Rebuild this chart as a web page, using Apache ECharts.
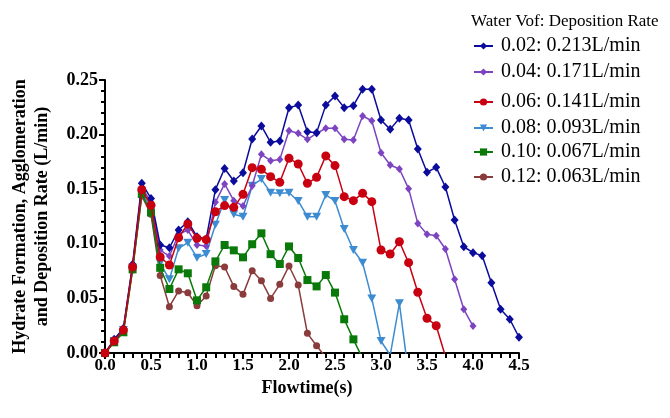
<!DOCTYPE html>
<html>
<head>
<meta charset="utf-8">
<script src="https://cdn.jsdelivr.net/npm/echarts@6/dist/echarts.min.js"></script>
<style>
  html, body { margin: 0; padding: 0; background: #fff; }
  #chart { width: 670px; height: 418px; }
</style>
</head>
<body>
<div id="chart"></div>
<script>
// Flowtime samples (s)
const flowtime = [
  0.0, 0.1, 0.2, 0.3, 0.4, 0.5, 0.6, 0.7, 0.8, 0.9,
  1.0, 1.1, 1.2, 1.3, 1.4, 1.5, 1.6, 1.7, 1.8, 1.9,
  2.0, 2.1, 2.2, 2.3, 2.4, 2.5, 2.6, 2.7, 2.8, 2.9,
  3.0, 3.1, 3.2, 3.3, 3.4, 3.5, 3.6, 3.7, 3.8, 3.9,
  4.0, 4.1, 4.2, 4.3, 4.4, 4.5
];

// Legend entries (water volume fraction : mean deposition rate)
const seriesNames = [
  '0.02: 0.213L/min',
  '0.04: 0.171L/min',
  '0.06: 0.141L/min',
  '0.08: 0.093L/min',
  '0.10: 0.067L/min',
  '0.12: 0.063L/min'
];

// Rate (L/min) per water Vof
const vof002 = [
  0, 0.0125, 0.0226, 0.0812, 0.1554, 0.1415, 0.0989, 0.0964, 0.1126, 0.1202,
  0.1065, 0.1044, 0.1496, 0.1690, 0.1575, 0.1651, 0.1960, 0.2079, 0.1929, 0.1941,
  0.2246, 0.2270, 0.2027, 0.2018, 0.2270, 0.2353, 0.2247, 0.2265, 0.2415, 0.2415,
  0.2134, 0.2048, 0.2149, 0.2134, 0.1868, 0.1655, 0.1700, 0.1520, 0.1218, 0.0973,
  0.0919, 0.0891, 0.0644, 0.0400, 0.0309, 0.0144
];
const vof004 = [
  0, 0.0120, 0.0220, 0.0800, 0.1520, 0.1380, 0.0943, 0.0888, 0.1087, 0.1126,
  0.0989, 0.0980, 0.1380, 0.1548, 0.1395, 0.1346, 0.1532, 0.1819, 0.1761, 0.1773,
  0.2036, 0.2012, 0.1957, 0.2012, 0.2058, 0.2058, 0.1957, 0.1951, 0.2170, 0.2127,
  0.1834, 0.1722, 0.1685, 0.1505, 0.1187, 0.1087, 0.1074, 0.0952, 0.0675, 0.0400,
  0.0247
];
const vof006 = [
  0, 0.0110, 0.0210, 0.0788, 0.1496, 0.1353, 0.0879, 0.0806, 0.1056, 0.1181,
  0.1050, 0.1038, 0.1294, 0.1350, 0.1334, 0.1453, 0.1697, 0.1682, 0.1615, 0.1563,
  0.1783, 0.1731, 0.1554, 0.1609, 0.1805, 0.1716, 0.1432, 0.1395, 0.1462, 0.1386,
  0.0943, 0.0907, 0.1019, 0.0827, 0.0556, 0.0318, 0.0250, -0.003
];
const vof008 = [
  0, 0.0110, 0.0210, 0.0780, 0.1480, 0.1320, 0.0821, 0.0675, 0.0959, 0.1010,
  0.0873, 0.0907, 0.1175, 0.1401, 0.1270, 0.1248, 0.1532, 0.1593, 0.1468, 0.1462,
  0.1468, 0.1392, 0.1248, 0.1248, 0.1447, 0.1392, 0.1136, 0.0943, 0.0827, 0.0500,
  0.0110, -0.002, 0.0455, -0.020
];
const vof010 = [
  0, 0.0098, 0.0190, 0.0766, 0.1456, 0.1287, 0.0780, 0.0586, 0.0766, 0.0730,
  0.0482, 0.0602, 0.0839, 0.0989, 0.0940, 0.0876, 0.0996, 0.1096, 0.0905, 0.0815,
  0.0976, 0.0870, 0.0668, 0.0610, 0.0714, 0.0553, 0.0309, 0.0125, -0.005
];
const vof012 = [
  0, 0.0100, 0.0190, 0.0760, 0.1438, 0.1270, 0.0710, 0.0424, 0.0568, 0.0552,
  0.0433, 0.0522, 0.0800, 0.0788, 0.0610, 0.0537, 0.0754, 0.0662, 0.0500, 0.0629,
  0.0797, 0.0623, 0.0180, 0.0067, -0.004
];

const xTicks = [0, 4.5, 0.5];      // min, max, step
const yTicks = [0, 0.25, 0.05];

const serif = 'Liberation Serif';

const styles = [
  { color: '#0b0b9c', symbol: 'diamond',  size: [8, 9],  rotate: 0,   z: 4 },
  { color: '#7c44c0', symbol: 'diamond',  size: [7, 8],  rotate: 0,   z: 3 },
  { color: '#c80010', symbol: 'circle',   size: 9,       rotate: 0,   z: 6 },
  { color: '#3d8bd0', symbol: 'triangle', size: [9, 8],  rotate: 180, z: 2 },
  { color: '#097a09', symbol: 'rect',     size: 8,       rotate: 0,   z: 5 },
  { color: '#8a3b3b', symbol: 'circle',   size: 7,       rotate: 0,   z: 1 }
];
const values = [vof002, vof004, vof006, vof008, vof010, vof012];
const legendY = [46, 72, 102, 128, 152, 177];

const series = values.map((vals, i) => ({
  name: seriesNames[i],
  type: 'line',
  data: vals.map((v, k) => [flowtime[k], v]),
  symbol: styles[i].symbol,
  symbolSize: styles[i].size,
  symbolRotate: styles[i].rotate,
  showAllSymbol: true,
  clip: true,
  z: styles[i].z,
  lineStyle: { color: styles[i].color, width: 1.5 },
  itemStyle: { color: styles[i].color },
  emphasis: { disabled: true }
}));

const legends = seriesNames.map((n, i) => ({
  data: [n],
  left: 473,
  top: legendY[i] - 10,
  padding: 0,
  orient: 'vertical',
  itemWidth: 19,
  itemHeight: 9,
  selectedMode: false,
  textStyle: { fontFamily: serif, fontSize: 20, color: '#000', padding: [0, 0, 0, 3] }
}));

const chart = echarts.init(document.getElementById('chart'), null, { renderer: 'canvas' });
chart.setOption({
  animation: false,
  backgroundColor: '#fff',
  title: {
    text: 'Water Vof: Deposition Rate',
    left: 466,
    top: 8,
    textStyle: { fontFamily: serif, fontSize: 17, fontWeight: 'normal', color: '#000' }
  },
  legend: legends,
  grid: { left: 105, right: 151, top: 80, bottom: 65, containLabel: false },
  xAxis: {
    type: 'value',
    min: xTicks[0], max: xTicks[1], interval: xTicks[2],
    name: 'Flowtime(s)',
    nameLocation: 'middle',
    nameGap: 16,
    nameTextStyle: { fontFamily: serif, fontSize: 18, fontWeight: 'bold', color: '#000', padding: [0, 10, 0, 0] },
    axisLine: { show: true, onZero: false, lineStyle: { color: '#000', width: 2 } },
    axisTick: { show: true, length: 6, lineStyle: { color: '#000', width: 2 } },
    minorTick: { show: true, splitNumber: 5, length: 5, lineStyle: { color: '#000', width: 2 } },
    splitLine: { show: false },
    axisLabel: {
      margin: 4,
      fontFamily: serif, fontSize: 17, fontWeight: 'bold', color: '#000',
      formatter: v => v.toFixed(1)
    }
  },
  yAxis: {
    type: 'value',
    min: yTicks[0], max: yTicks[1], interval: yTicks[2],
    name: 'Hydrate Formation, Agglomeration\nand Deposition Rate (L/min)',
    nameLocation: 'middle',
    nameGap: 52,
    nameRotate: 90,
    nameTextStyle: { fontFamily: serif, fontSize: 18, fontWeight: 'bold', color: '#000', lineHeight: 22 },
    axisLine: { show: true, onZero: false, lineStyle: { color: '#000', width: 2 } },
    axisTick: { show: true, length: 6, lineStyle: { color: '#000', width: 2 } },
    minorTick: { show: true, splitNumber: 5, length: 4, lineStyle: { color: '#000', width: 2 } },
    splitLine: { show: false },
    axisLabel: {
      margin: 7,
      fontFamily: serif, fontSize: 18, fontWeight: 'bold', color: '#000',
      formatter: v => v.toFixed(2)
    }
  },
  series: series
});
</script>
</body>
</html>
